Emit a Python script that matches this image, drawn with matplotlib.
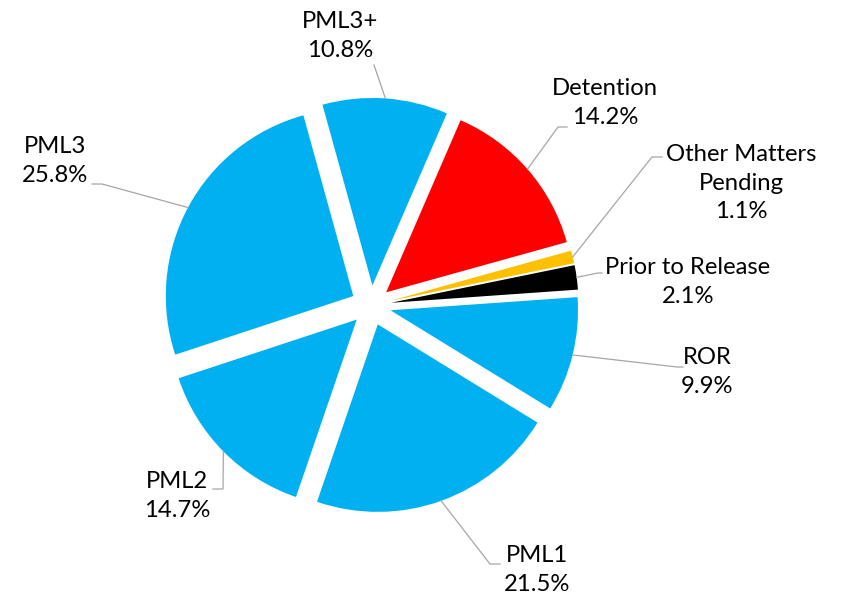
import numpy as np
import matplotlib
matplotlib.use('Agg')
import matplotlib.pyplot as plt

plt.rcParams['font.family'] = ['Lato', 'DejaVu Sans']

# data
categories = ['Detention', 'Other Matters\nPending', 'Prior to Release', 'ROR',
              'PML1', 'PML2', 'PML3', 'PML3+']
shares = [14.2, 1.1, 2.1, 9.9, 21.5, 14.7, 25.8, 10.8]
colors = ['#FF0000', '#FFC000', '#000000', '#00B0F0',
          '#00B0F0', '#00B0F0', '#00B0F0', '#00B0F0']

# layout (pixels on the 842x603 canvas)
W, H = 842, 603
cx, cy, R = 371, 305.5, 187.5
# text centre, leader knee, leader tail
label_pos = [(605, 103), (741, 183), (688, 282), (707, 372),
             (537, 570), (177, 496), (55, 161), (340, 36)]
knees = [(558, 127), (652, 157), (598, 273), (677, 367),
         (490, 564), (223, 489), (102, 184), (374, 65)]
tails = [(567, 127), (662, 157), (602, 273), (683, 367),
         (500, 564), (213, 489), (92, 184), (374, 65)]

def px(p):
    return ((p[0] - cx) / R, (cy - p[1]) / R)

fig = plt.figure(figsize=(W / 100, H / 100), dpi=100)
ax = fig.add_axes([0, 0, 1, 1])
wedges, _ = ax.pie(shares, colors=colors, startangle=90 - 23.4, counterclock=False,
                   explode=[0.107] * len(shares), radius=1,
                   wedgeprops=dict(linewidth=0))
ax.set_xlim(-cx / R, (W - cx) / R)
ax.set_ylim(-(H - cy) / R, cy / R)
ax.set_aspect('equal')
ax.axis('off')

for w, cat, val, tp, kp, tl in zip(wedges, categories, shares, label_pos, knees, tails):
    mid = np.deg2rad((w.theta1 + w.theta2) / 2)
    x0 = w.center[0] + w.r * np.cos(mid)
    y0 = w.center[1] + w.r * np.sin(mid)
    k = px(kp)
    t = px(tl)
    ax.plot([x0, k[0], t[0]], [y0, k[1], t[1]], color='#A6A6A6', lw=0.9,
            solid_joinstyle='miter')
    tx, ty = px(tp)
    ax.text(tx, ty, '%s\n%.1f%%' % (cat, val), ha='center', va='center',
            multialignment='center', fontsize=17.2, linespacing=1.45, color='#000000')

fig.savefig('out.png', dpi=100)
